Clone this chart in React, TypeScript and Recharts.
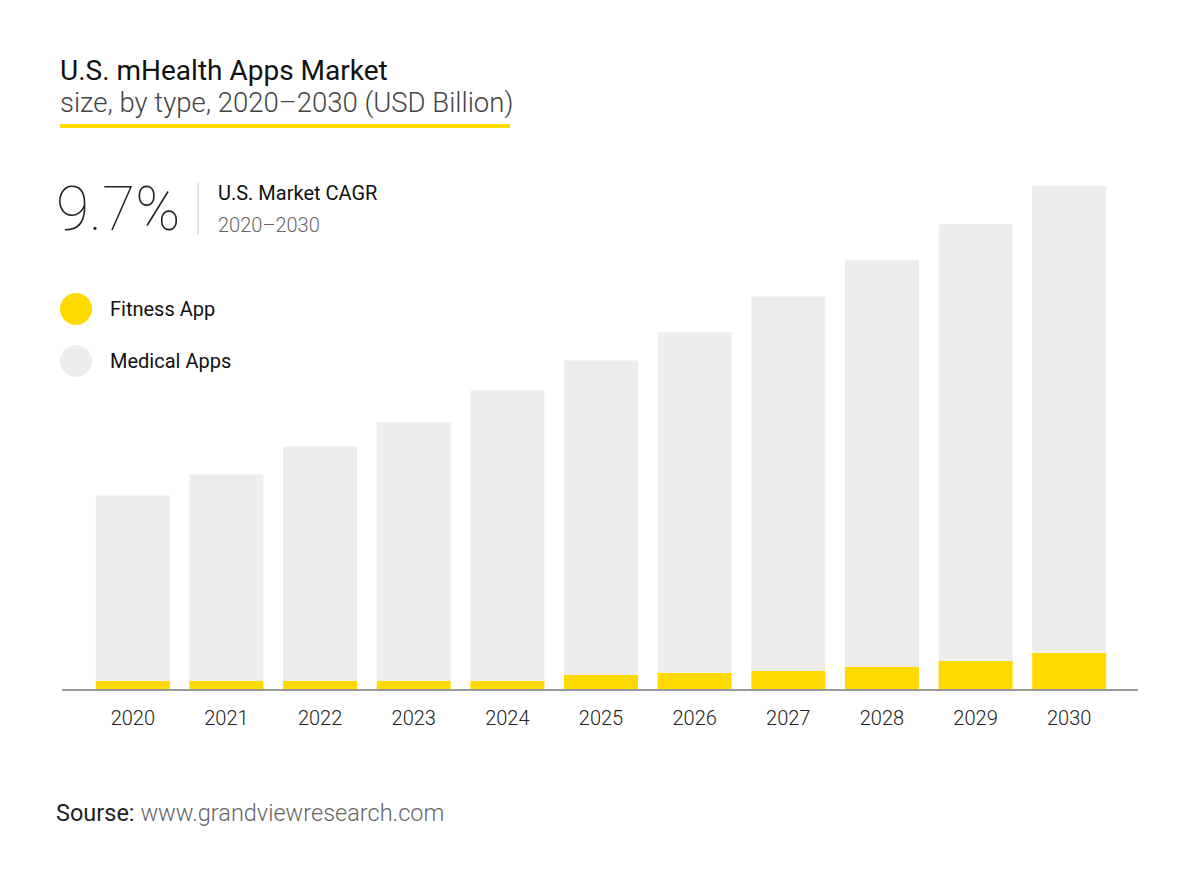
import React from 'react';
import { BarChart, Bar, XAxis, YAxis } from 'recharts';

// Years on the x axis
const years = ['2020', '2021', '2022', '2023', '2024', '2025', '2026', '2027', '2028', '2029', '2030'];

// USD Billion
const fitnessApp = [0.54, 0.54, 0.54, 0.54, 0.54, 0.89, 1.01, 1.13, 1.37, 1.73, 2.21];
const medicalApps = [11.03, 12.28, 13.95, 15.38, 17.29, 18.73, 20.28, 22.3, 24.21, 26.0, 27.79];

const seriesNames = ['Fitness App', 'Medical Apps'];

const data = years.map((year, i) => ({
  year,
  fitness: fitnessApp[i],
  medical: medicalApps[i],
}));

const YELLOW = '#FFDA00';
const GREY = '#EEEDEB';
const FONT = 'Roboto, "Noto Sans", sans-serif';
const seriesColors = [YELLOW, GREY];

const App: React.FC = () => {
  return (
    <div style={{ position: 'absolute', left: 0, top: 0, width: 1200, height: 888, background: '#fff' }}>
      <svg width={1200} height={888} style={{ position: 'absolute', left: 0, top: 0 }}>
        <text x={60} y={80} fontFamily={FONT} fontSize={28} fill="#111">
          U.S. mHealth Apps Market
        </text>
        <text x={60} y={112} fontFamily={FONT} fontSize={27.5} fontWeight={300} fill="#444">
          size, by type, 2020–2030 (USD Billion)
        </text>
        <rect x={60} y={124} width={450} height={4} fill={YELLOW} />

        <text x={56} y={230} fontFamily={FONT} fontSize={60.5} fontWeight={100} fill="#222">
          9.7%
        </text>
        <line x1={198} y1={183} x2={198} y2={235} stroke="#ddd" strokeWidth={1.5} />
        <text x={218} y={200} fontFamily={FONT} fontSize={20} fill="#111">
          U.S. Market CAGR
        </text>
        <text x={218} y={232} fontFamily={FONT} fontSize={20} fontWeight={300} fill="#666">
          2020–2030
        </text>

        {seriesNames.map((name, i) => (
          <g key={name}>
            <circle cx={76} cy={309 + i * 52} r={16} fill={seriesColors[i]} />
            <text x={110} y={316 + i * 52} fontFamily={FONT} fontSize={20} fill="#111">
              {name}
            </text>
          </g>
        ))}

        <text x={56} y={821} fontFamily={FONT} fontSize={23.5}>
          <tspan fill="#222">Sourse: </tspan>
          <tspan fill="#666" fontWeight={300}>www.grandviewresearch.com</tspan>
        </text>
      </svg>

      <div style={{ position: 'absolute', left: 0, top: 0 }}>
        <BarChart
          width={1200}
          height={888}
          data={data}
          margin={{ top: 186, right: 62, left: 62, bottom: 168 }}
          barCategoryGap="10.5%"
        >
          <XAxis
            dataKey="year"
            height={30}
            padding={{ left: 24, right: 22 }}
            axisLine={{ stroke: '#999', strokeWidth: 2 }}
            tickLine={false}
            tickMargin={15}
            tick={{ fontSize: 20, fill: '#222', fontFamily: FONT, fontWeight: 300 }}
          />
          <YAxis hide domain={[0, 30]} />
          <Bar dataKey="fitness" name={seriesNames[0]} stackId="a" fill={YELLOW} isAnimationActive={false} />
          <Bar dataKey="medical" name={seriesNames[1]} stackId="a" fill={GREY} isAnimationActive={false} />
        </BarChart>
      </div>
    </div>
  );
};

export default App;
